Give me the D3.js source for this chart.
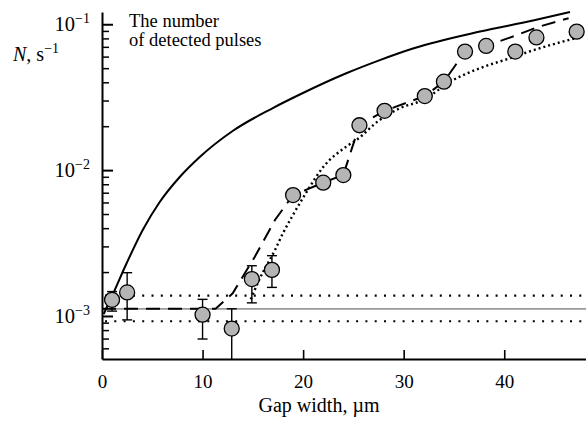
<!DOCTYPE html>
<html>
<head>
<meta charset="utf-8">
<script src="https://cdn.jsdelivr.net/npm/d3@7"></script>
<style>
  body { margin: 0; background: #fff; }
  text { font-family: "Liberation Serif", "Times New Roman", "DejaVu Serif", serif; }
</style>
</head>
<body>
<svg id="chart" width="586" height="423" font-family="Liberation Serif, serif"></svg>
<script>
// measured points: gap width (um), rate (1/s)
const gapWidth = [1.0, 2.5, 10.0, 12.9, 14.9, 16.9, 19.0, 22.0, 24.0, 25.6, 28.1, 32.1, 34.0, 36.1, 38.2, 41.1, 43.2, 47.2];
const rate = [1.29e-3, 1.45e-3, 1.02e-3, 0.82e-3, 1.79e-3, 2.07e-3, 6.74e-3, 8.2e-3, 9.25e-3, 2.03e-2, 2.55e-2, 3.22e-2, 4.04e-2, 6.5e-2, 7.1e-2, 6.5e-2, 8.12e-2, 8.9e-2];
const errLow = [1.08e-3, 0.94e-3, 0.695e-3, 0.4e-3, 1.23e-3, 1.57e-3, null, null, null, null, null, null, null, null, null, null, null, null];
const errHigh = [1.47e-3, 1.98e-3, 1.30e-3, 1.12e-3, 2.21e-3, 2.59e-3, null, null, null, null, null, null, null, null, null, null, null, null];

// theory curve (solid)
const theoryX = [0.17, 1.0, 2.46, 4.05, 5.74, 7.73, 9.72, 12.99, 16.99, 19.67, 24.35, 27.63, 30.92, 37.59, 42.86, 46.54];
const theoryY = [1.032e-3, 1.371e-3, 2.308e-3, 3.885e-3, 6.043e-3, 8.97e-3, 1.23e-2, 1.854e-2, 2.664e-2, 3.298e-2, 4.63e-2, 5.68e-2, 6.82e-2, 8.91e-2, 0.106, 0.1213];

// dashed guide through the data
const dashX = [0, 11.3, 13.0, 15.2, 17.2, 19.0, 22.0, 24.0, 25.6, 28.1, 32.1, 34.0, 36.1, 38.2, 41.2, 43.4, 46.4];
const dashY = [1.12e-3, 1.12e-3, 1.43e-3, 2.55e-3, 4.55e-3, 6.74e-3, 8.2e-3, 9.3e-3, 2.03e-2, 2.55e-2, 3.22e-2, 4.04e-2, 6.5e-2, 7.1e-2, 8.4e-2, 9.6e-2, 0.11];

// dotted fit
const fitX = [14.8, 15.6, 17.2, 18.0, 18.9, 20.3, 22.0, 24.3, 25.3, 27.6, 29.6, 31.9, 34.9, 37.6, 40.9, 42.2, 47.0];
const fitY = [1.3e-3, 1.75e-3, 2.83e-3, 3.7e-3, 4.8e-3, 7.0e-3, 1.05e-2, 1.45e-2, 1.61e-2, 2.2e-2, 2.65e-2, 3.02e-2, 4.14e-2, 5.0e-2, 5.95e-2, 6.4e-2, 8.0e-2];

// background level and its band
const background = 1.12e-3;
const bandLow = 0.92e-3;
const bandHigh = 1.38e-3;

const xTicks = [0, 10, 20, 30, 40];
const yMajor = [1e-3, 1e-2, 1e-1];
const yMajorLabels = ["\u22123", "\u22122", "\u22121"];

const FONT = "Liberation Serif, Times New Roman, serif";
const svg = d3.select("#chart");
const margin = { top: 12, right: 0, bottom: 64, left: 102 };
const width = 586, height = 423;

const x = d3.scaleLinear().domain([0, 48.13]).range([margin.left, width - margin.right]);
const y = d3.scaleLog().domain([Math.pow(10, -3.295), Math.pow(10, -0.916)]).range([height - margin.bottom, margin.top]);

svg.append("defs").append("clipPath").attr("id", "plot")
  .append("rect")
  .attr("x", margin.left).attr("y", margin.top)
  .attr("width", width - margin.left - margin.right)
  .attr("height", height - margin.top - margin.bottom);

// horizontal background lines
svg.append("line")
  .attr("x1", x(0)).attr("x2", x.range()[1])
  .attr("y1", y(background)).attr("y2", y(background))
  .attr("stroke", "#9a9a9a").attr("stroke-width", 1.8);

svg.selectAll(".band")
  .data([bandLow, bandHigh])
  .enter()
  .append("line")
  .attr("class", "band")
  .attr("x1", x(0) + 3).attr("x2", x.range()[1])
  .attr("y1", (d) => y(d)).attr("y2", (d) => y(d))
  .attr("stroke", "#000").attr("stroke-width", 2.2)
  .attr("stroke-dasharray", "2,7.3");

const line = d3.line()
  .x((d) => x(d[0]))
  .y((d) => y(d[1]));

svg.append("path")
  .datum(theoryX.map((v, i) => [v, theoryY[i]]))
  .attr("d", line.curve(d3.curveMonotoneX))
  .attr("fill", "none").attr("stroke", "#000").attr("stroke-width", 2);

svg.append("path")
  .datum(dashX.map((v, i) => [v, dashY[i]]))
  .attr("d", line.curve(d3.curveLinear))
  .attr("fill", "none").attr("stroke", "#000").attr("stroke-width", 2)
  .attr("stroke-dasharray", "14,8");

svg.append("path")
  .datum(fitX.map((v, i) => [v, fitY[i]]))
  .attr("d", line.curve(d3.curveMonotoneX))
  .attr("fill", "none").attr("stroke", "#000").attr("stroke-width", 2.4)
  .attr("stroke-dasharray", "2,3");

// error bars
const pts = gapWidth.map((g, i) => ({ x: g, y: rate[i], lo: errLow[i], hi: errHigh[i] }));
const errs = svg.append("g").attr("clip-path", "url(#plot)")
  .selectAll("g")
  .data(pts.filter((d) => d.lo !== null))
  .enter()
  .append("g")
  .attr("stroke", "#000").attr("stroke-width", 1.4);

errs.append("line")
  .attr("x1", (d) => x(d.x)).attr("x2", (d) => x(d.x))
  .attr("y1", (d) => y(d.lo)).attr("y2", (d) => y(d.hi));
errs.append("line")
  .attr("x1", (d) => x(d.x) - 5).attr("x2", (d) => x(d.x) + 5)
  .attr("y1", (d) => y(d.hi)).attr("y2", (d) => y(d.hi));
errs.append("line")
  .attr("x1", (d) => x(d.x) - 5).attr("x2", (d) => x(d.x) + 5)
  .attr("y1", (d) => y(d.lo)).attr("y2", (d) => y(d.lo));

svg.selectAll(".pt")
  .data(pts)
  .enter()
  .append("circle")
  .attr("class", "pt")
  .attr("cx", (d) => x(d.x))
  .attr("cy", (d) => y(d.y))
  .attr("r", 7.5)
  .attr("fill", "#b5b5b5")
  .attr("stroke", "#000")
  .attr("stroke-width", 1.3);

// x axis
const xAxis = svg.append("g")
  .attr("transform", `translate(0,${y.range()[0]})`)
  .call(d3.axisBottom(x).tickValues(xTicks).tickSizeInner(-9).tickSizeOuter(0).tickPadding(16));
xAxis.attr("font-family", FONT).attr("font-size", 19);
xAxis.select(".domain").attr("stroke-width", 2);
xAxis.selectAll(".tick line").attr("stroke-width", 1.6);
xAxis.selectAll("text").attr("font-family", FONT).attr("font-size", 19).attr("fill", "#000");

// y axis: minor then major ticks
const minor = y.ticks().filter((v) => !yMajor.some((m) => Math.abs(m - v) / m < 1e-6));
const yMinorAxis = svg.append("g")
  .attr("transform", `translate(${x(0)},0)`)
  .call(d3.axisLeft(y).tickValues(minor).tickSizeInner(-7).tickSizeOuter(0).tickFormat(""));
yMinorAxis.select(".domain").attr("stroke-width", 2);
yMinorAxis.selectAll(".tick line").attr("stroke-width", 1.5);

const yMajorAxis = svg.append("g")
  .attr("transform", `translate(${x(0)},0)`)
  .call(d3.axisLeft(y).tickValues(yMajor).tickSizeInner(-11).tickSizeOuter(0).tickFormat(""));
yMajorAxis.select(".domain").remove();
yMajorAxis.selectAll(".tick line").attr("stroke-width", 2);

const yLab = svg.selectAll(".ylab")
  .data(yMajor)
  .enter()
  .append("text")
  .attr("class", "ylab")
  .attr("x", 90)
  .attr("y", (d) => y(d) + 7)
  .attr("text-anchor", "end")
  .attr("font-family", FONT)
  .attr("font-size", 20.5);
yLab.append("tspan").text("10");
yLab.append("tspan")
  .attr("dy", -8)
  .attr("font-size", 14)
  .text((d, i) => yMajorLabels[i]);

// axis titles
const yTitle = svg.append("text").attr("x", 13).attr("y", 61)
  .attr("font-family", FONT).attr("font-size", 20);
yTitle.append("tspan").attr("font-style", "italic").text("N");
yTitle.append("tspan").text(", s");
yTitle.append("tspan").attr("dy", -8).attr("font-size", 14).text("\u22121");

svg.append("text")
  .attr("x", 319)
  .attr("y", 412)
  .attr("text-anchor", "middle")
  .attr("font-family", FONT)
  .attr("font-size", 20)
  .text("Gap width, \u00b5m");

svg.append("text").attr("x", 129).attr("y", 27)
  .attr("font-family", FONT).attr("font-size", 18.5)
  .text("The number");
svg.append("text").attr("x", 129).attr("y", 46)
  .attr("font-family", FONT).attr("font-size", 18.5)
  .text("of detected pulses");
</script>
</body>
</html>
